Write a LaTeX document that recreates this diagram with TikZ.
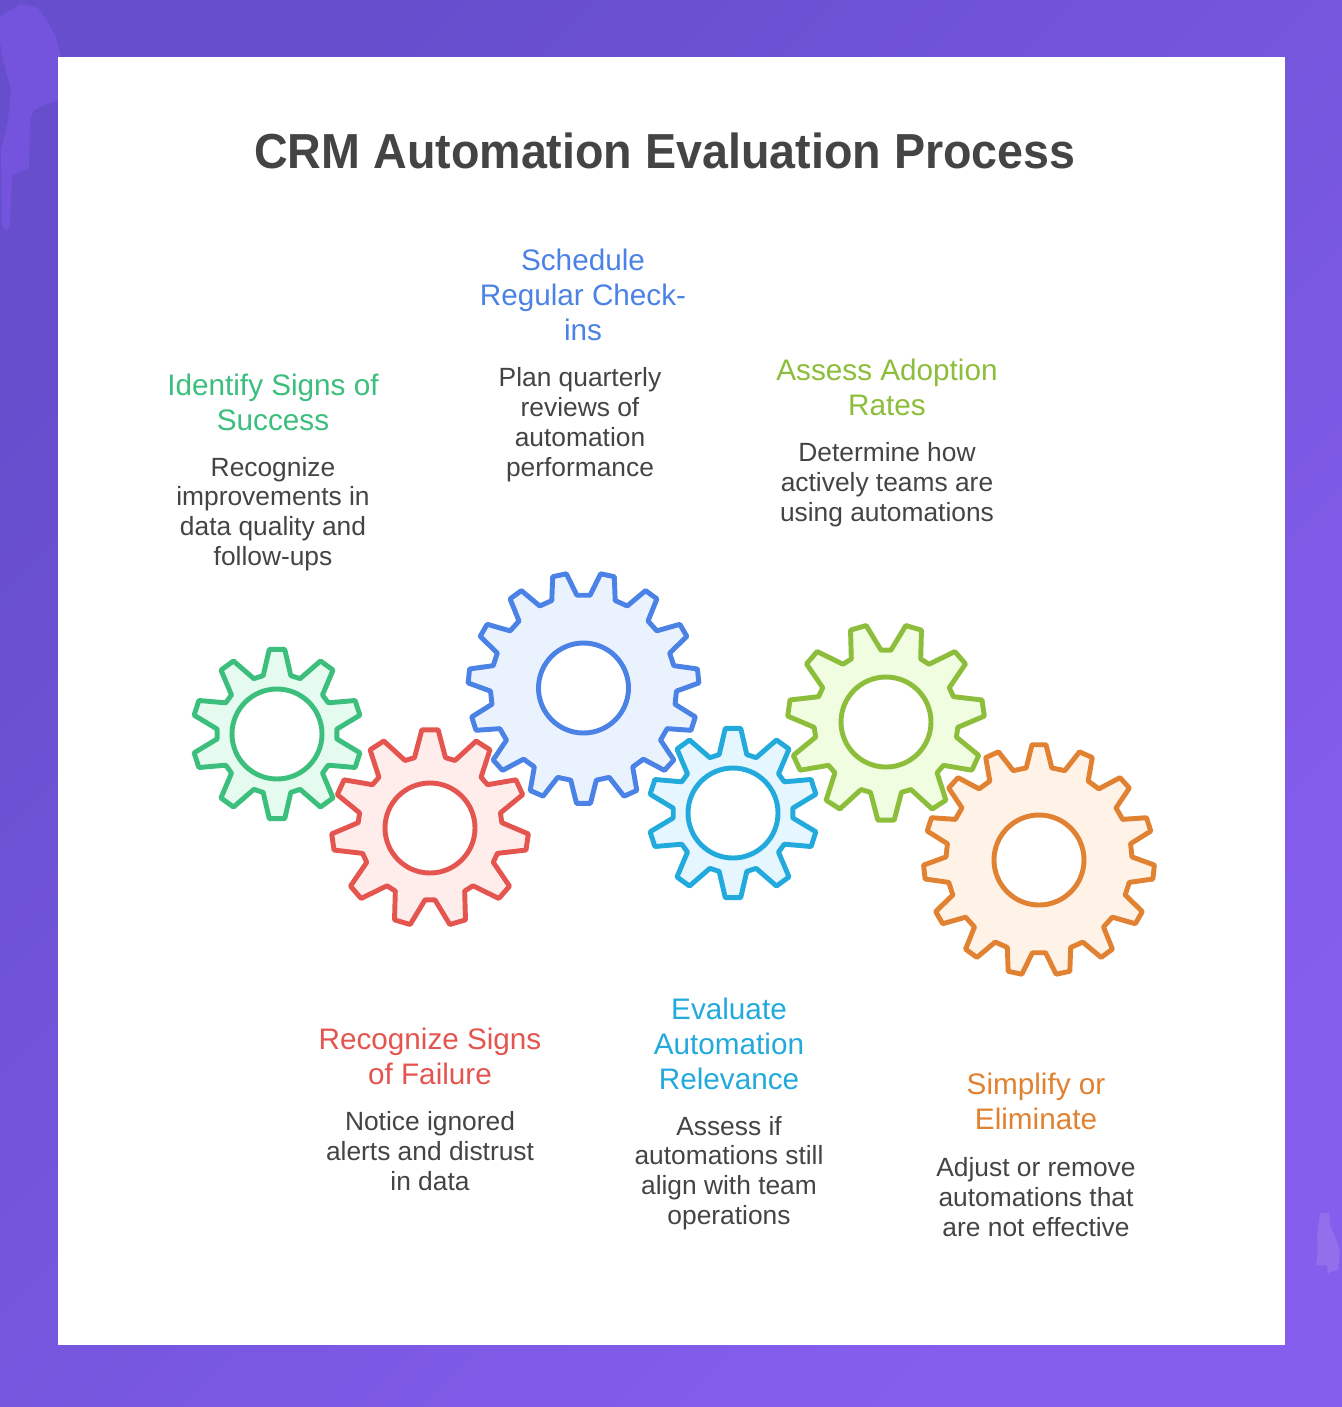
\documentclass[tikz,border=0pt]{standalone}
\usepackage{fontspec}
\setmainfont{Liberation Sans}
\newfontfamily\titlefont[FakeStretch=0.948]{Liberation Sans}
\usepackage{xcolor}

% cx, cy, outer radius, root radius, teeth, first tooth angle, line colour, fill colour, tooth base share
\newcommand{\drawgear}[9]{%
    \pgfmathsetmacro{\pitch}{360/#5}
    \draw[gearline, draw=#7, fill=#8, shift={(#1,#2)}] (#6-0.145*\pitch:#3)
        \foreach \k in {1,...,#5} {
            -- ({#6+(\k-1)*\pitch+0.145*\pitch}:#3)
            -- ({#6+(\k-1)*\pitch+#9*\pitch}:#4)
            -- ({#6+\k*\pitch-#9*\pitch}:#4)
            -- ({#6+\k*\pitch-0.145*\pitch}:#3)
        } -- cycle;
    \draw[gearline, draw=#7, fill=white] (#1,#2) circle (45);
}

\tikzset{
    gearline/.style={line width=2.8pt, line join=round},
    heading/.style={align=center, inner sep=0pt, font=\fontsize{16.9}{19.9}\selectfont},
    detail/.style={align=center, inner sep=0pt, text=inktext, font=\fontsize{15}{17}\selectfont},
}

\begin{document}
\begin{tikzpicture}[x=0.02cm, y=-0.02cm]
    % Define some colors for convenience
    \definecolor{bgdark}{RGB}{102,78,205} % backdrop top left
    \definecolor{bglight}{RGB}{134,94,238} % backdrop bottom right
    \definecolor{stainleft}{RGB}{116,84,220} % top left stain
    \definecolor{stainright}{RGB}{146,112,236} % bottom right stain
    \definecolor{inktext}{RGB}{68,68,68} % title and body text
    \definecolor{greenline}{RGB}{60,190,125}
    \definecolor{greenfill}{RGB}{230,251,240}
    \definecolor{redline}{RGB}{228,85,80}
    \definecolor{redfill}{RGB}{254,237,235}
    \definecolor{blueline}{RGB}{75,130,230}
    \definecolor{bluefill}{RGB}{234,242,254}
    \definecolor{cyanline}{RGB}{35,170,220}
    \definecolor{cyanfill}{RGB}{230,246,254}
    \definecolor{limeline}{RGB}{140,190,60}
    \definecolor{limefill}{RGB}{241,253,224}
    \definecolor{orangeline}{RGB}{225,130,50}
    \definecolor{orangefill}{RGB}{255,242,230}

    % Backdrop and panel
    \useasboundingbox (0,0) rectangle (1342,1407);
    \shade[left color=bgdark, right color=bglight, shading angle=45] (0,0) rectangle (1342,1407);
    \fill[stainleft] (0,17) -- (20,4) -- (38,8) -- (45,18) -- (55,35) -- (61,55) -- (58,100) -- (44,105) -- (34,110) -- (30,120) -- (29,168) -- (12,175) -- (10,225) -- (6,232) -- (2,225) -- (1,150) -- (8,120) -- (11,90) -- (3,60) -- (0,42) -- cycle; % top left stain
    \fill[stainright] (1320,1213) -- (1329,1213) -- (1330,1225) -- (1336,1240) -- (1340,1250) -- (1338,1270) -- (1330,1272) -- (1328,1275) -- (1327,1265) -- (1316,1265) -- (1318,1250) -- (1317,1235) -- cycle; % bottom right stain
    \fill[white] (58,57) rectangle (1285,1345); % panel

    % Title
    \node[inner sep=0pt, text=inktext, font=\fontsize{28}{32}\selectfont\titlefont\bfseries] (title) at (665,151) {CRM Automation Evaluation Process};

    % Gears, y runs downwards so 270 is the top tooth
    \drawgear{277}{734}{85}{60}{10}{270}{greenline}{greenfill}{0.37}
    \drawgear{430}{828}{98.5}{72}{11}{270}{redline}{redfill}{0.38}
    \drawgear{583.5}{688}{115.5}{93}{15}{90}{blueline}{bluefill}{0.33}
    \drawgear{733}{813}{85}{60}{10}{270}{cyanline}{cyanfill}{0.37}
    \drawgear{886}{722}{98.5}{72}{11}{90}{limeline}{limefill}{0.38}
    \drawgear{1039}{860}{115.5}{93}{15}{270}{orangeline}{orangefill}{0.33}

    % Labels
    \node[heading, text=greenline] (successhead) at (273,402) {Identify Signs of\\Success};
    \node[detail] (successtext) at (273,514) {Recognize\\improvements in\\data quality and\\follow-ups};
    \node[heading, text=blueline] (checkhead) at (583,295) {Schedule\\Regular Check-\\ins};
    \node[detail] (checktext) at (580,424.5) {Plan quarterly\\reviews of\\automation\\performance};
    \node[heading, text=limeline] (adoptionhead) at (887,387.5) {Assess Adoption\\Rates};
    \node[detail] (adoptiontext) at (887,485) {Determine how\\actively teams are\\using automations};
    \node[heading, text=redline] (failurehead) at (430,1056) {Recognize Signs\\of Failure};
    \node[detail] (failuretext) at (430,1151) {Notice ignored\\alerts and distrust\\in data};
    \node[heading, text=cyanline] (relevancehead) at (729,1044) {Evaluate\\Automation\\Relevance};
    \node[detail] (relevancetext) at (729,1173) {Assess if\\automations still\\align with team\\operations};
    \node[heading, text=orangeline] (simplifyhead) at (1036,1101) {Simplify or\\Eliminate};
    \node[detail] (simplifytext) at (1036,1197) {Adjust or remove\\automations that\\are not effective};
\end{tikzpicture}
\end{document}
